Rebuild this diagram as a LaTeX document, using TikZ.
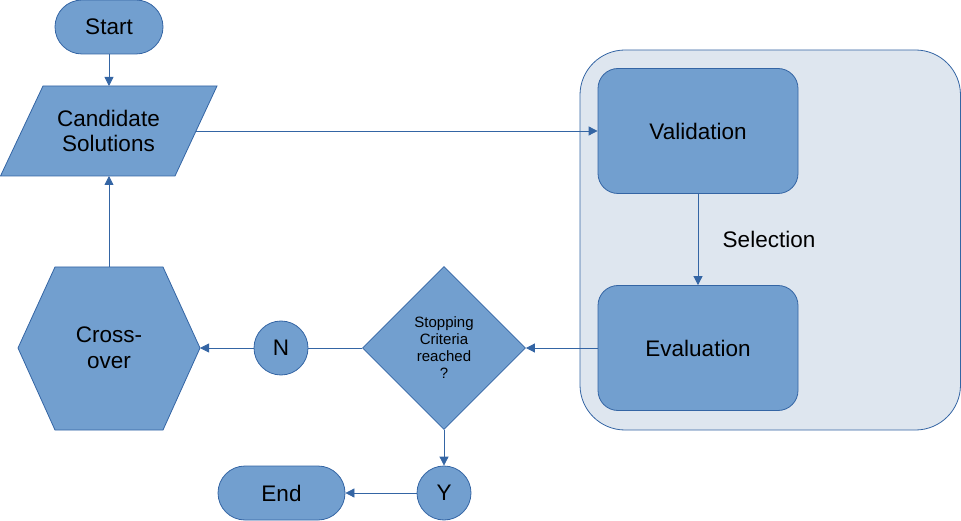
\documentclass[tikz,border=0pt]{standalone}
\usepackage{fontspec}
\setmainfont{Liberation Sans}
\usetikzlibrary{positioning, shapes.geometric, arrows.meta}
\definecolor{boxfill}{RGB}{114, 159, 207}
\definecolor{boxline}{RGB}{52, 101, 164}
\definecolor{groupfill}{RGB}{222, 230, 239}
\begin{document}
\begin{tikzpicture}[x=1pt, y=-1pt,
    box/.style={draw=boxline, fill=boxfill, line width=0.8pt, inner sep=0pt, align=center,
        font=\fontsize{22.5}{25.5}\selectfont},
    terminal/.style={box, rounded corners=27pt, minimum width=108pt, minimum height=54pt},
    stagebox/.style={box, rounded corners=20pt, minimum width=200pt, minimum height=125pt},
    answer/.style={box, circle, minimum size=54pt},
    textonly/.style={align=center, font=\fontsize{22.5}{25.5}\selectfont},
    flow/.style={draw=boxline, line width=0.8pt, -{Triangle[length=9pt, width=9pt]}},
    plain/.style={draw=boxline, line width=0.8pt}]
    \useasboundingbox (0,0) rectangle (961,521);
    % Grouping panel
    \draw[boxline, fill=groupfill, line width=0.8pt, rounded corners=45pt] (580,50) rectangle (960.5,430);

    % Nodes
    \node[terminal] (start) at (109,27) {Start};
    \node[stagebox] (valid) at (698,131) {Validation};
    \node[stagebox] (eval) at (698,348) {Evaluation};
    \node[box, diamond, aspect=1, minimum width=163pt, minimum height=163pt,
        font=\fontsize{15}{17}\selectfont] (stop) at (444,348) {Stopping\\Criteria\\reached\\?};
    \node[answer] (no) at (281,348) {N};
    \node[answer] (yes) at (444,493) {Y};
    \node[terminal, minimum width=127pt] (end) at (281.5,493) {End};

    % Candidate parallelogram
    \draw[boxline, fill=boxfill, line width=0.8pt] (43,86) -- (217,86) -- (175,176) -- (0.5,176) -- cycle;
    \node[textonly] (cand) at (108.5,131) {Candidate\\Solutions};
    \coordinate (candN) at (109,86);
    \coordinate (candE) at (196,131);
    \coordinate (candS) at (109,176);

    % Cross-over hexagon
    \draw[boxline, fill=boxfill, line width=0.8pt] (18,348) -- (55,267) -- (163,267) -- (200,348)
        -- (163,430) -- (55,430) -- cycle;
    \node[textonly] (cross) at (109,348) {Cross-\\over};
    \coordinate (crossE) at (200,348);
    \coordinate (crossN) at (109,267);

    % Connectors
    \draw[flow] (start) -- (candN);
    \draw[flow] (candE) -- (valid);
    \draw[flow] (valid) -- node[anchor=west, xshift=21pt, textonly] {Selection} (eval);
    \draw[flow] (eval) -- (stop);
    \draw[plain] (stop) -- (no);
    \draw[flow] (no) -- (crossE);
    \draw[flow] (crossN) -- (candS);
    \draw[flow] (stop) -- (yes);
    \draw[flow] (yes) -- (end);
\end{tikzpicture}
\end{document}
